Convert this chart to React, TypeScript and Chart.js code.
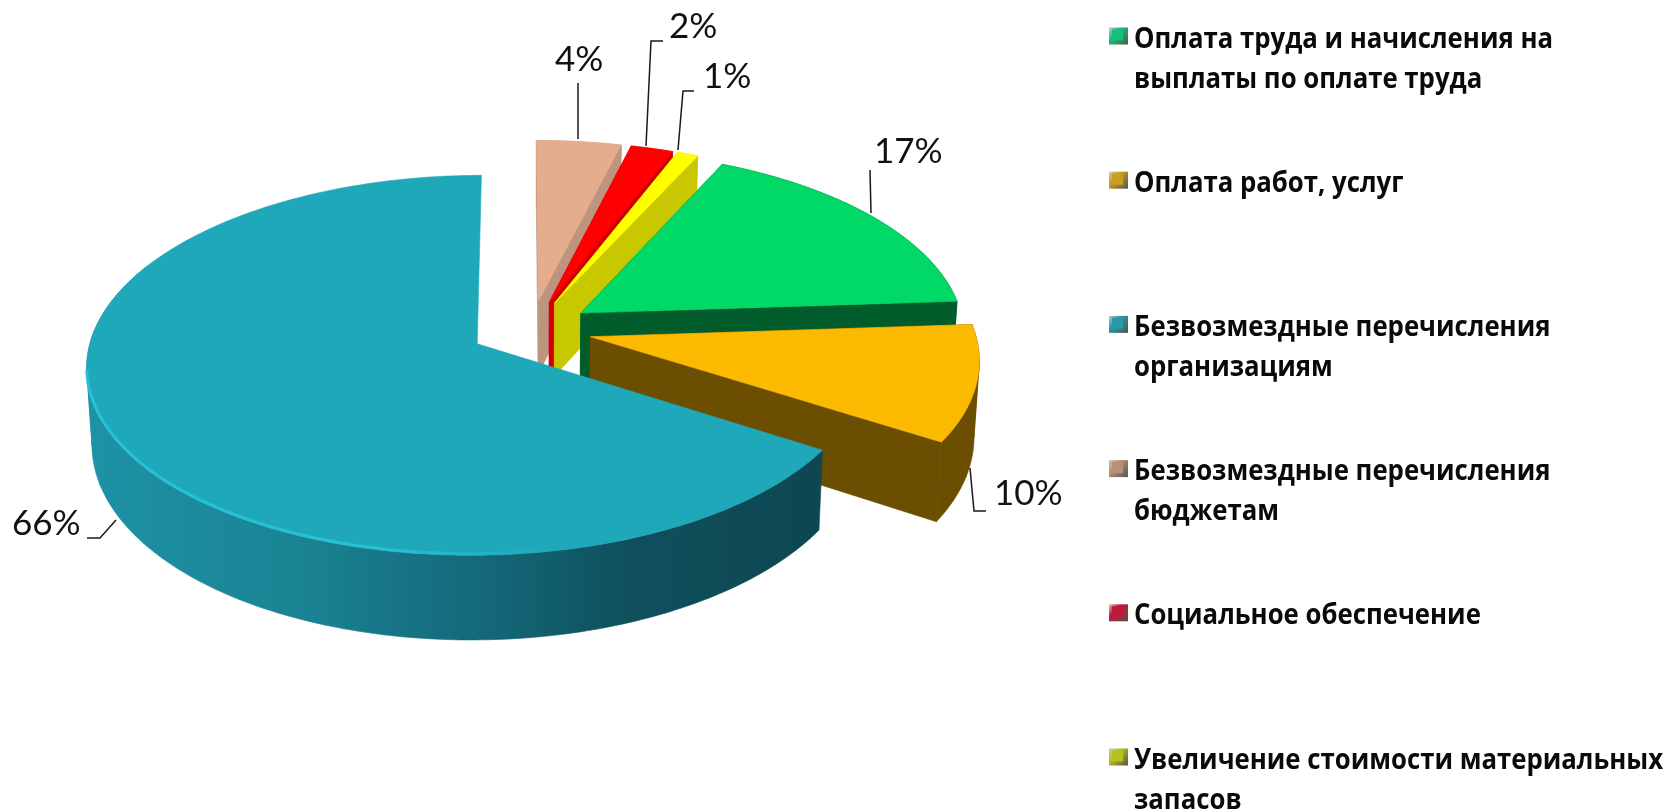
import React, { useEffect, useRef } from "react";
import { Chart, registerables } from "chart.js";

Chart.register(...registerables);

const categories = [
  "Оплата труда и начисления на\nвыплаты по оплате труда",
  "Оплата работ, услуг",
  "Безвозмездные перечисления\nорганизациям",
  "Безвозмездные перечисления\nбюджетам",
  "Социальное обеспечение",
  "Увеличение стоимости материальных\nзапасов",
];
const shares = [17, 10, 66, 4, 2, 1];
const topColors = ["#00D966", "#FBBA00", "#1FA8BA", "#E6AD8C", "#FF0000", "#FFFF00"];
const wallColors = ["#005C2A", "#6B4E00", "#12606C", "#BC9480", "#D20000", "#C8C800"];
const legendColors = ["#14C078", "#C8A020", "#2A98A8", "#B89078", "#C01838", "#B8C020"];

const WIDTH = 1667;
const HEIGHT = 812;
const FIRST_SLICE_ANGLE = 25;
const RADIUS = 384;
const EXPLODE = 122;
const TILT = 0.48;
const VIEW = 3430;
const DEPTH = 74.5;
const TAPER = 0.012;
const CX = 531;
const CY = 329.5;

const labelSpots = [
  { x: 874, y: 163, line: [[870, 170], [871, 213]] },
  { x: 994, y: 505, line: [[986, 511], [974, 511], [970, 468]] },
  { x: 12, y: 535, line: [[87, 538], [100, 538], [116, 520]] },
  { x: 555, y: 71, line: [[578, 83], [578, 139]] },
  { x: 669, y: 38, line: [[663, 41], [651, 41], [646, 146]] },
  { x: 703, y: 88, line: [[694, 91], [683, 91], [678, 150]] },
];
const legendLeft = 1134;
const legendFirstBaseline = 47.5;
const legendStep = 144.2;
const legendLineGap = 40;
const tealWallStops: [number, string][] = [
  [0, "#1D93A6"],
  [0.3, "#1A8393"],
  [0.55, "#14687A"],
  [0.75, "#0F505C"],
  [1, "#0D4752"],
];

function project(X: number, Y: number, h: number): [number, number] {
  const s = VIEW / (VIEW - Y);
  const t = 1 - (TAPER * h) / DEPTH;
  return [CX + X * s * t, CY + TILT * Y * s + h * s];
}

function sliceGeometry(arc: any) {
  const off = (arc.options.offset || 0) / 2;
  const mid = (arc.startAngle + arc.endAngle) / 2;
  const ax = Math.cos(mid) * off + arc.x - CX;
  const ay = Math.sin(mid) * off + arc.y - CY;
  const steps = Math.max(4, Math.ceil((arc.endAngle - arc.startAngle) * 60));
  const rim: [number, number][] = [];
  for (let i = 0; i <= steps; i++) {
    const a = arc.startAngle + ((arc.endAngle - arc.startAngle) * i) / steps;
    rim.push([ax + Math.cos(a) * arc.outerRadius, ay + Math.sin(a) * arc.outerRadius]);
  }
  return { ax, ay, rim };
}

function poly(ctx: CanvasRenderingContext2D, pts: [number, number][], fill: any) {
  ctx.beginPath();
  pts.forEach((p, i) => (i ? ctx.lineTo(p[0], p[1]) : ctx.moveTo(p[0], p[1])));
  ctx.closePath();
  ctx.fillStyle = fill;
  ctx.strokeStyle = fill;
  ctx.lineWidth = 0.6;
  ctx.fill();
  ctx.stroke();
}

const pie3d = {
  id: "pie3d",
  beforeDatasetDraw(chart: any) {
    const ctx: CanvasRenderingContext2D = chart.ctx;
    const arcs: any[] = chart.getDatasetMeta(0).data;
    const order = arcs
      .map((arc, i) => ({ i, y: Math.sin((arc.startAngle + arc.endAngle) / 2) }))
      .sort((a, b) => a.y - b.y);
    ctx.save();
    ctx.lineJoin = "round";
    for (const { i } of order) {
      const { ax, ay, rim } = sliceGeometry(arcs[i]);
      const isMajor = arcs[i].endAngle - arcs[i].startAngle > Math.PI;
      let wall: any = wallColors[i];
      if (isMajor) {
        const g = ctx.createLinearGradient(83, 0, 809, 0);
        tealWallStops.forEach(([o, c]) => g.addColorStop(o, c));
        wall = g;
      }
      const last = rim[rim.length - 1];
      if (!isMajor) {
        [rim[0], last].forEach((e) =>
          poly(ctx, [project(ax, ay, 0), project(e[0], e[1], 0), project(e[0], e[1], DEPTH), project(ax, ay, DEPTH)], wall)
        );
      }
      const front = rim.filter((p) => (isMajor ? p[1] > ay - 170 : true));
      poly(ctx, [
        ...front.map((p) => project(p[0], p[1], 0)),
        ...front.slice().reverse().map((p) => project(p[0], p[1], DEPTH)),
      ], wall);
      // fill the silhouette between the top and bottom rims at the side extremes
      const xs = rim.map((p) => project(p[0], p[1], 0)[0]);
      [xs.indexOf(Math.min(...xs)), xs.indexOf(Math.max(...xs))].forEach((e) => {
        if (e <= 0 || e >= rim.length - 1) return;
        [-1, 1].forEach((side) => {
          const o = rim[Math.max(0, Math.min(rim.length - 1, e + side * 12))];
          poly(ctx, [
            project(rim[e][0], rim[e][1], 0),
            project(rim[e][0], rim[e][1], DEPTH),
            project(o[0], o[1], DEPTH),
            project(o[0], o[1], 0),
          ], wall);
        });
      });
      poly(ctx, [project(ax, ay, 0), ...rim.map((p) => project(p[0], p[1], 0))], topColors[i]);
      if (isMajor) {
        const g = ctx.createLinearGradient(83, 0, 560, 0);
        g.addColorStop(0, "rgba(38,198,218,0.85)");
        g.addColorStop(0.6, "rgba(38,198,218,0.85)");
        g.addColorStop(1, "rgba(38,198,218,0)");
        ctx.beginPath();
        rim.forEach((p) => {
          const [x, y] = project(p[0], p[1], 0);
          if (y > 370 && x < 560) ctx.lineTo(x, y - 1.5);
        });
        ctx.strokeStyle = g;
        ctx.lineWidth = 3;
        ctx.stroke();
      }
    }
    ctx.restore();
    return false;
  },
  afterDraw(chart: any) {
    const ctx: CanvasRenderingContext2D = chart.ctx;
    ctx.save();
    ctx.textBaseline = "alphabetic";
    ctx.textAlign = "left";
    shares.forEach((v, i) => {
      const spot = labelSpots[i];
      ctx.beginPath();
      spot.line.forEach((p, j) => (j ? ctx.lineTo(p[0], p[1]) : ctx.moveTo(p[0], p[1])));
      ctx.strokeStyle = "#1a1a1a";
      ctx.lineWidth = 1.5;
      ctx.stroke();
      ctx.fillStyle = "#111";
      ctx.font = "35px Lato";
      ctx.fillText(`${v}%`, spot.x, spot.y);
    });
    ctx.font = "bold 28px 'Open Sans'";
    const squeeze = 419 / ctx.measureText(categories[0].split("\n")[0]).width;
    categories.forEach((name, i) => {
      const base = legendFirstBaseline + legendStep * i;
      const mx = 1109;
      const my = base - 20;
      const g = ctx.createLinearGradient(mx, my, mx + 19, my + 17);
      g.addColorStop(0, "#c8c8c0");
      g.addColorStop(0.35, legendColors[i]);
      g.addColorStop(1, "#55554c");
      ctx.fillStyle = g;
      ctx.fillRect(mx, my, 19, 17);
      ctx.fillStyle = legendColors[i];
      ctx.fillRect(mx + 3, my + 2, 11, 11);
      ctx.fillStyle = "#0a0a0a";
      name.split("\n").forEach((line, j) => {
        ctx.save();
        ctx.translate(legendLeft, base + legendLineGap * j);
        ctx.scale(squeeze, 1);
        ctx.fillText(line, 0, 0);
        ctx.restore();
      });
    });
    ctx.restore();
  },
};

export default function App() {
  const ref = useRef<HTMLCanvasElement>(null);
  useEffect(() => {
    document.body.style.margin = "0";
    const chart = new Chart(ref.current as HTMLCanvasElement, {
      type: "pie",
      data: {
        labels: categories,
        datasets: [{ data: shares, backgroundColor: topColors, offset: EXPLODE, borderWidth: 0 }],
      },
      options: {
        responsive: false,
        animation: false,
        rotation: FIRST_SLICE_ANGLE,
        radius: RADIUS,
        layout: { padding: { left: 0, top: 0, right: WIDTH - 2 * CX, bottom: HEIGHT - 2 * CY } },
        plugins: { legend: { display: false }, tooltip: { enabled: false } },
      },
      plugins: [pie3d],
    } as any);
    return () => chart.destroy();
  }, []);
  return (
    <canvas
      ref={ref}
      width={WIDTH}
      height={HEIGHT}
      style={{ display: "block", position: "absolute", left: 0, top: 0, background: "#fff" }}
    />
  );
}
